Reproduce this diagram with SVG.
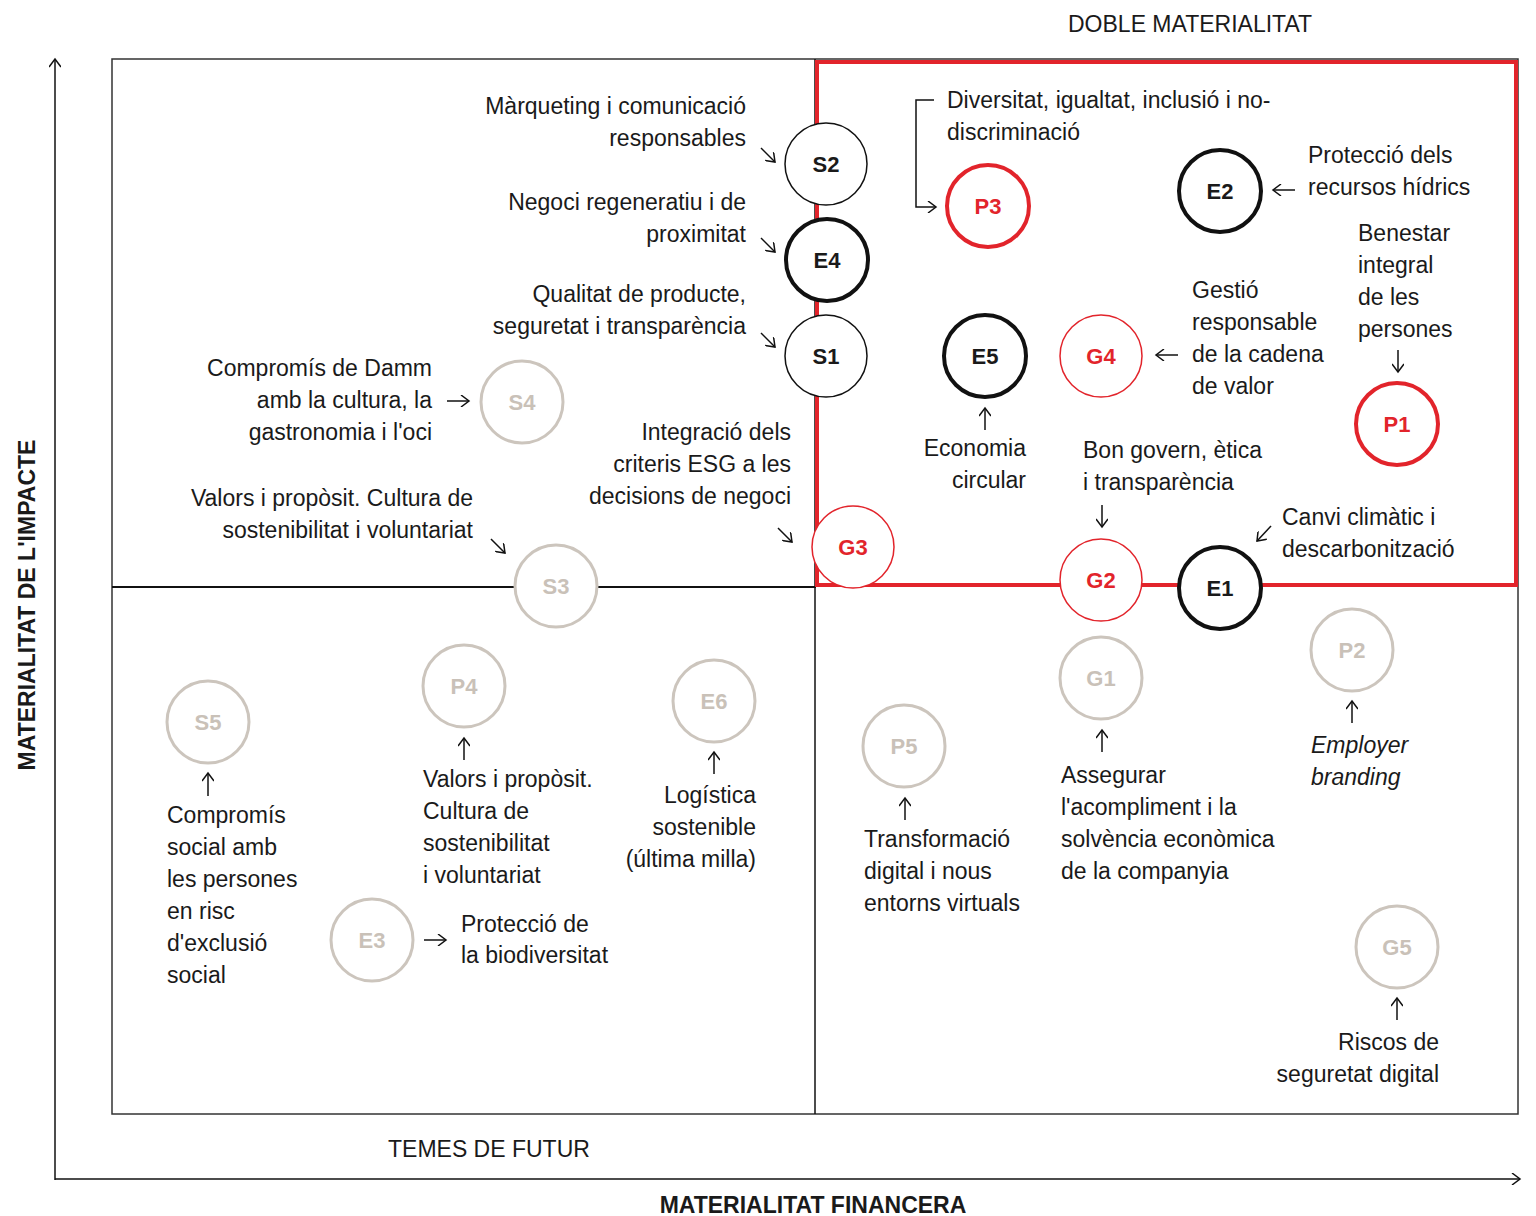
<svg xmlns="http://www.w3.org/2000/svg" width="1536" height="1216" viewBox="0 0 1536 1216">
<style>
text{font-family:"Liberation Sans",Arial,sans-serif;font-size:23px;fill:#1a1a1a}
.r{text-anchor:end}
.nl{font-weight:bold;font-size:22px;text-anchor:middle}
.blk circle{fill:#fff;stroke:#111}
.red circle{fill:#fff;stroke:#e2242b}
.red text{fill:#e2242b}
.gry circle{fill:#fff;stroke:#ccc5bd;stroke-width:3}
.gry text{fill:#c9c1b8}
.thin circle{stroke-width:1.5}
.thick circle{stroke-width:4}
.ar{fill:none;stroke:#111;stroke-width:1.5}
.ttl{font-size:23px}
.ax{font-weight:bold;font-size:23px}
</style>
<defs>
<marker id="h" markerWidth="12" markerHeight="12" refX="10" refY="6" orient="auto" markerUnits="userSpaceOnUse">
<path d="M2,0 L10,6 L2,12" fill="none" stroke="#111" stroke-width="1.5"/>
</marker>
</defs>
<g id="frame">
<rect x="112" y="59" width="1406" height="1055" fill="none" stroke="#333" stroke-width="1.5"/>
<line x1="815" y1="59" x2="815" y2="1114" stroke="#111" stroke-width="1.5"/>
<line x1="112" y1="587" x2="816" y2="587" stroke="#111" stroke-width="2"/>
<rect x="817" y="62" width="699" height="523" fill="none" stroke="#e2242b" stroke-width="4"/>
</g>
<g id="axes" class="ar">
<line x1="55" y1="1180" x2="55" y2="59" marker-end="url(#h)"/>
<line x1="55" y1="1179" x2="1520" y2="1179" marker-end="url(#h)"/>
</g>
<g id="titles">
<text x="1068" y="32" class="ttl">DOBLE MATERIALITAT</text>
<text x="388" y="1157" class="ttl">TEMES DE FUTUR</text>
<text x="813" y="1213" class="ax" text-anchor="middle">MATERIALITAT FINANCERA</text>
<text transform="translate(35,605) rotate(-90)" class="ax" text-anchor="middle">MATERIALITAT DE L'IMPACTE</text>
</g>
<g id="connectors" class="ar">
<path d="M761,148 L775,162" marker-end="url(#h)"/>
<path d="M761,238 L775,252" marker-end="url(#h)"/>
<path d="M761,333 L775,347" marker-end="url(#h)"/>
<path d="M447,401 L469,401" marker-end="url(#h)"/>
<path d="M491,539 L505,553" marker-end="url(#h)"/>
<path d="M778,528 L792,542" marker-end="url(#h)"/>
<path d="M934,100 L916,100 L916,207 L936,207" marker-end="url(#h)"/>
<path d="M1295,190 L1273,190" marker-end="url(#h)"/>
<path d="M1178,355 L1156,355" marker-end="url(#h)"/>
<path d="M1398,350 L1398,372" marker-end="url(#h)"/>
<path d="M985,430 L985,408" marker-end="url(#h)"/>
<path d="M1102,505 L1102,527" marker-end="url(#h)"/>
<path d="M1271,526 L1257,541" marker-end="url(#h)"/>
<path d="M208,796 L208,773" marker-end="url(#h)"/>
<path d="M464,760 L464,738" marker-end="url(#h)"/>
<path d="M714,774 L714,752" marker-end="url(#h)"/>
<path d="M424,940 L446,940" marker-end="url(#h)"/>
<path d="M905,820 L905,798" marker-end="url(#h)"/>
<path d="M1102,752 L1102,730" marker-end="url(#h)"/>
<path d="M1352,723 L1352,701" marker-end="url(#h)"/>
<path d="M1397,1020 L1397,998" marker-end="url(#h)"/>
</g>
<g id="labels">
<text class="r" x="746" y="114">Màrqueting i comunicació</text>
<text class="r" x="746" y="146">responsables</text>
<text class="r" x="746" y="210">Negoci regeneratiu i de</text>
<text class="r" x="746" y="242">proximitat</text>
<text class="r" x="746" y="302">Qualitat de producte,</text>
<text class="r" x="746" y="334">seguretat i transparència</text>
<text class="r" x="432" y="376">Compromís de Damm</text>
<text class="r" x="432" y="408">amb la cultura, la</text>
<text class="r" x="432" y="440">gastronomia i l'oci</text>
<text class="r" x="791" y="440">Integració dels</text>
<text class="r" x="791" y="472">criteris ESG a les</text>
<text class="r" x="791" y="504">decisions de negoci</text>
<text class="r" x="473" y="506">Valors i propòsit. Cultura de</text>
<text class="r" x="473" y="538">sostenibilitat i voluntariat</text>
<text x="947" y="108">Diversitat, igualtat, inclusió i no-</text>
<text x="947" y="140">discriminació</text>
<text x="1308" y="163">Protecció dels</text>
<text x="1308" y="195">recursos hídrics</text>
<text x="1358" y="241">Benestar</text>
<text x="1358" y="273">integral</text>
<text x="1358" y="305">de les</text>
<text x="1358" y="337">persones</text>
<text x="1192" y="298">Gestió</text>
<text x="1192" y="330">responsable</text>
<text x="1192" y="362">de la cadena</text>
<text x="1192" y="394">de valor</text>
<text class="r" x="1026" y="456">Economia</text>
<text class="r" x="1026" y="488">circular</text>
<text x="1083" y="458">Bon govern, ètica</text>
<text x="1083" y="490">i transparència</text>
<text x="1282" y="525">Canvi climàtic i</text>
<text x="1282" y="557">descarbonització</text>
<text x="167" y="823">Compromís</text>
<text x="167" y="855">social amb</text>
<text x="167" y="887">les persones</text>
<text x="167" y="919">en risc</text>
<text x="167" y="951">d'exclusió</text>
<text x="167" y="983">social</text>
<text x="423" y="787">Valors i propòsit.</text>
<text x="423" y="819">Cultura de</text>
<text x="423" y="851">sostenibilitat</text>
<text x="423" y="883">i voluntariat</text>
<text class="r" x="756" y="803">Logística</text>
<text class="r" x="756" y="835">sostenible</text>
<text class="r" x="756" y="867">(última milla)</text>
<text x="461" y="932">Protecció de</text>
<text x="461" y="963">la biodiversitat</text>
<text x="864" y="847">Transformació</text>
<text x="864" y="879">digital i nous</text>
<text x="864" y="911">entorns virtuals</text>
<text x="1061" y="783">Assegurar</text>
<text x="1061" y="815">l'acompliment i la</text>
<text x="1061" y="847">solvència econòmica</text>
<text x="1061" y="879">de la companyia</text>
<text x="1311" y="753" font-style="italic">Employer</text>
<text x="1311" y="785" font-style="italic">branding</text>
<text class="r" x="1439" y="1050">Riscos de</text>
<text class="r" x="1439" y="1082">seguretat digital</text>
</g>
<g id="S2" class="blk thin"><circle cx="826" cy="164" r="41"/><text class="nl" x="826" y="172">S2</text></g>
<g id="E4" class="blk thick"><circle cx="827" cy="260" r="41"/><text class="nl" x="827" y="268">E4</text></g>
<g id="S1" class="blk thin"><circle cx="826" cy="356" r="41"/><text class="nl" x="826" y="364">S1</text></g>
<g id="S4" class="gry"><circle cx="522" cy="402" r="41"/><text class="nl" x="522" y="410">S4</text></g>
<g id="S3" class="gry"><circle cx="556" cy="586" r="41"/><text class="nl" x="556" y="594">S3</text></g>
<g id="G3" class="red thin"><circle cx="853" cy="547" r="41"/><text class="nl" x="853" y="555">G3</text></g>
<g id="P3" class="red thick"><circle cx="988" cy="206" r="41"/><text class="nl" x="988" y="214">P3</text></g>
<g id="E2" class="blk thick"><circle cx="1220" cy="191" r="41"/><text class="nl" x="1220" y="199">E2</text></g>
<g id="E5" class="blk thick"><circle cx="985" cy="356" r="41"/><text class="nl" x="985" y="364">E5</text></g>
<g id="G4" class="red thin"><circle cx="1101" cy="356" r="41"/><text class="nl" x="1101" y="364">G4</text></g>
<g id="P1" class="red thick"><circle cx="1397" cy="424" r="41"/><text class="nl" x="1397" y="432">P1</text></g>
<g id="G2" class="red thin"><circle cx="1101" cy="580" r="41"/><text class="nl" x="1101" y="588">G2</text></g>
<g id="E1" class="blk thick"><circle cx="1220" cy="588" r="41"/><text class="nl" x="1220" y="596">E1</text></g>
<g id="S5" class="gry"><circle cx="208" cy="722" r="41"/><text class="nl" x="208" y="730">S5</text></g>
<g id="P4" class="gry"><circle cx="464" cy="686" r="41"/><text class="nl" x="464" y="694">P4</text></g>
<g id="E6" class="gry"><circle cx="714" cy="701" r="41"/><text class="nl" x="714" y="709">E6</text></g>
<g id="E3" class="gry"><circle cx="372" cy="940" r="41"/><text class="nl" x="372" y="948">E3</text></g>
<g id="P5" class="gry"><circle cx="904" cy="746" r="41"/><text class="nl" x="904" y="754">P5</text></g>
<g id="G1" class="gry"><circle cx="1101" cy="678" r="41"/><text class="nl" x="1101" y="686">G1</text></g>
<g id="P2" class="gry"><circle cx="1352" cy="650" r="41"/><text class="nl" x="1352" y="658">P2</text></g>
<g id="G5" class="gry"><circle cx="1397" cy="947" r="41"/><text class="nl" x="1397" y="955">G5</text></g>
</svg>
